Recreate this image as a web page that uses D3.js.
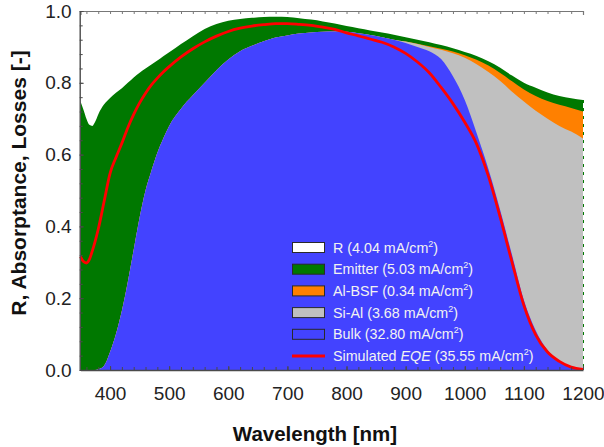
<!DOCTYPE html>
<html>
<head>
<meta charset="utf-8">
<script src="https://cdn.jsdelivr.net/npm/d3@7"></script>
<style>
  body { margin: 0; background: #ffffff; }
  svg { display: block; }
</style>
</head>
<body>
<svg id="chart" width="604" height="447"></svg>
<script>
// Wavelength grid [nm]
const wavelength = [350, 355, 360, 365, 370, 375, 380, 390, 400, 410, 420, 430, 440, 450, 460, 470, 480, 490, 500,
  520, 540, 560, 580, 600, 620, 640, 660, 680, 700, 720, 740, 760, 780, 800, 820, 840, 860, 880, 900,
  920, 940, 960, 980, 1000, 1020, 1040, 1060, 1080, 1100, 1120, 1140, 1160, 1180, 1200];

// Absorptance in the bulk (collected)
const bulk = [0, 0, 0, 0, 0, 0, 0.002, 0.012, 0.05, 0.10, 0.165, 0.245, 0.335, 0.425, 0.50, 0.555, 0.605, 0.645, 0.68,
  0.728, 0.765, 0.80, 0.835, 0.865, 0.888, 0.903, 0.916, 0.926, 0.932, 0.937, 0.940, 0.942, 0.943, 0.942, 0.938, 0.933, 0.927, 0.92, 0.911,
  0.90, 0.888, 0.866, 0.818, 0.752, 0.66, 0.56, 0.445, 0.32, 0.195, 0.11, 0.055, 0.025, 0.01, 0.004];

// Parasitic absorption in the Si-Al rear region
const siAl = [0, 0, 0, 0, 0, 0, 0, 0, 0, 0, 0, 0, 0, 0, 0, 0, 0, 0, 0,
  0, 0, 0, 0, 0, 0, 0, 0, 0, 0, 0, 0, 0, 0, 0, 0, 0, 0, 0, 0.004,
  0.008, 0.012, 0.026, 0.064, 0.118, 0.192, 0.27, 0.36, 0.455, 0.553, 0.612, 0.645, 0.655, 0.654, 0.641];

// Recombination losses in the Al back surface field
const alBsf = [0, 0, 0, 0, 0, 0, 0, 0, 0, 0, 0, 0, 0, 0, 0, 0, 0, 0, 0,
  0, 0, 0, 0, 0, 0, 0, 0, 0, 0, 0, 0, 0, 0, 0, 0, 0, 0, 0, 0,
  0.001, 0.002, 0.003, 0.005, 0.007, 0.012, 0.018, 0.022, 0.029, 0.033, 0.041, 0.049, 0.059, 0.066, 0.075];

// Recombination losses in the emitter
const emitter = [0.748, 0.725, 0.70, 0.683, 0.680, 0.692, 0.710, 0.728, 0.708, 0.672, 0.62, 0.555, 0.48, 0.403, 0.34, 0.296, 0.257, 0.229, 0.205,
  0.18, 0.165, 0.15, 0.129, 0.108, 0.09, 0.078, 0.067, 0.058, 0.051, 0.043, 0.036, 0.029, 0.022, 0.016, 0.014, 0.013, 0.013, 0.014, 0.012,
  0.011, 0.011, 0.01, 0.009, 0.009, 0.011, 0.012, 0.015, 0.016, 0.019, 0.023, 0.024, 0.024, 0.027, 0.032];

// Simulated external quantum efficiency
const eqe = [0.316, 0.302, 0.298, 0.308, 0.332, 0.36, 0.392, 0.47, 0.548, 0.592, 0.632, 0.675, 0.712, 0.744, 0.771, 0.794, 0.813, 0.83, 0.845,
  0.872, 0.895, 0.914, 0.93, 0.943, 0.952, 0.958, 0.962, 0.965, 0.965, 0.963, 0.96, 0.955, 0.949, 0.939, 0.931, 0.922, 0.913, 0.90, 0.882,
  0.858, 0.828, 0.787, 0.742, 0.69, 0.63, 0.54, 0.425, 0.30, 0.18, 0.098, 0.05, 0.024, 0.008, 0.002];

// Axis ticks
const xTicks = [400, 500, 600, 700, 800, 900, 1000, 1100, 1200];
const yTicks = [0, 0.2, 0.4, 0.6, 0.8, 1.0];

// Legend entries and their integrated current densities [mA/cm2]
const legendLabels = ["R", "Emitter", "Al-BSF", "Si-Al", "Bulk", "Simulated EQE"];
const legendCurrents = ["4.04", "5.03", "0.34", "3.68", "32.80", "35.55"];

const colors = { R: "#ffffff", emitter: "#007800", alBsf: "#ff8000", siAl: "#c0c0c0", bulk: "#4343ff", eqe: "#ff0000" };
const FONT = "'Liberation Sans', Arial, sans-serif";

const svg = d3.select("#chart");
const x = d3.scaleLinear().domain([350, 1200]).range([80.5, 583]);
const y = d3.scaleLinear().domain([0, 1]).range([370, 11]);

// Stack the loss/absorption channels from bottom to top
const rows = wavelength.map((w, i) => ({ w, bulk: bulk[i], siAl: siAl[i], alBsf: alBsf[i], emitter: emitter[i] }));
const keys = ["bulk", "siAl", "alBsf", "emitter"];
const stacked = d3.stack().keys(keys)(rows);

const curve = d3.curveMonotoneX;
const plot = svg.append("g");

// Reflection: everything above the emitter top up to unity
const topLayer = stacked[stacked.length - 1];
plot.append("path")
  .datum(topLayer)
  .attr("fill", colors.R)
  .attr("d", d3.area().curve(curve)
    .x(d => x(d.data.w)).y0(d => y(d[1])).y1(() => y(1)));

// Each channel filled from zero to its cumulative top, painted top-down
[...stacked].reverse().forEach(layer => {
  plot.append("path")
    .datum(layer)
    .attr("fill", colors[layer.key])
    .attr("d", d3.area().curve(curve)
      .x(d => x(d.data.w)).y0(() => y(0)).y1(d => y(d[1])));
});

// Edge of the emitter layer at the end of the wavelength range
const last = topLayer[topLayer.length - 1];
plot.append("line")
  .attr("x1", x(last.data.w) + 0.5).attr("x2", x(last.data.w) + 0.5)
  .attr("y1", y(last[1])).attr("y2", y(0))
  .attr("stroke", colors.emitter).attr("stroke-width", 1)
  .attr("stroke-dasharray", "3,5");

// Simulated EQE curve
plot.append("path")
  .datum(wavelength.map((w, i) => [w, eqe[i]]))
  .attr("fill", "none")
  .attr("stroke", colors.eqe)
  .attr("stroke-width", 2.8)
  .attr("stroke-linejoin", "round")
  .attr("d", d3.line().curve(curve).x(d => x(d[0])).y(d => y(d[1])));

// Axes
const axisColor = "#4a4a4a";
const minorX = d3.range(360, 1201, 20);
const minorY = d3.range(0, 1.0001, 0.04);

function styleAxis(g) {
  g.select(".domain").attr("stroke", axisColor).attr("stroke-width", 1.4);
  g.selectAll(".tick line").attr("stroke", axisColor).attr("stroke-width", 1);
  g.selectAll("text").attr("fill", "#222").attr("font-family", FONT).attr("font-size", 19);
}

// Bottom axis: minor ticks then labelled major ticks
svg.append("g").attr("transform", `translate(0,${y(0)})`)
  .call(d3.axisBottom(x).tickValues(minorX).tickSize(-3).tickFormat(""))
  .call(g => { g.select(".domain").remove(); g.selectAll(".tick line").attr("stroke", axisColor); });
svg.append("g").attr("transform", `translate(0,${y(0)})`)
  .call(d3.axisBottom(x).tickValues(xTicks).tickSizeInner(-4).tickSizeOuter(0).tickPadding(17).tickFormat(d3.format("d")))
  .call(styleAxis);

// Top frame line with inward ticks
svg.append("g").attr("transform", `translate(0,${y(1)})`)
  .call(d3.axisTop(x).tickValues(minorX).tickSizeInner(-3).tickSizeOuter(-4).tickFormat(""))
  .call(g => { g.select(".domain").attr("stroke", "#777").attr("stroke-width", 1.2); g.selectAll(".tick line").attr("stroke", "#777"); });

// Left axis: minor ticks then labelled major ticks
svg.append("g").attr("transform", `translate(${x(350) - 0.8},0)`)
  .call(d3.axisLeft(y).tickValues(minorY).tickSize(-3).tickFormat(""))
  .call(g => { g.select(".domain").remove(); g.selectAll(".tick line").attr("stroke", axisColor); });
svg.append("g").attr("transform", `translate(${x(350) - 0.8},0)`)
  .call(d3.axisLeft(y).tickValues(yTicks).tickSizeInner(-4).tickSizeOuter(0).tickPadding(8).tickFormat(d3.format(".1f")))
  .call(styleAxis);

// Axis titles
svg.append("text")
  .attr("x", 315).attr("y", 441)
  .attr("text-anchor", "middle")
  .attr("font-family", FONT).attr("font-weight", "bold").attr("font-size", 20.5)
  .attr("fill", "#111")
  .text("Wavelength [nm]");

svg.append("text")
  .attr("transform", "translate(26,183) rotate(-90)")
  .attr("text-anchor", "middle")
  .attr("font-family", FONT).attr("font-weight", "bold").attr("font-size", 21)
  .attr("fill", "#111")
  .text("R, Absorptance, Losses [-]");

// Legend
const legendColors = [colors.R, colors.emitter, colors.alBsf, colors.siAl, colors.bulk, colors.eqe];
const legend = svg.append("g").attr("transform", "translate(292,247.5)");
legendLabels.forEach((label, i) => {
  const row = legend.append("g").attr("transform", `translate(0,${i * 21.7})`);
  if (i < legendLabels.length - 1) {
    row.append("rect")
      .attr("x", 0.5).attr("y", -5).attr("width", 32).attr("height", 10)
      .attr("fill", legendColors[i]).attr("stroke", "#2a2a2a").attr("stroke-width", 1);
  } else {
    row.append("line")
      .attr("x1", 0).attr("x2", 33).attr("y1", 0).attr("y2", 0)
      .attr("stroke", legendColors[i]).attr("stroke-width", 2.8);
  }
  const t = row.append("text")
    .attr("x", 41).attr("y", 5)
    .attr("font-family", FONT).attr("font-size", 14.3)
    .attr("fill", "#f2f2f2");
  if (label === "Simulated EQE") {
    t.append("tspan").text("Simulated ");
    t.append("tspan").attr("font-style", "italic").text("EQE");
  } else {
    t.append("tspan").text(label);
  }
  t.append("tspan").text(` (${legendCurrents[i]} mA/cm`);
  t.append("tspan").attr("font-size", 9).attr("dy", -6).text("2");
  t.append("tspan").attr("dy", 6).text(")");
});
</script>
</body>
</html>
